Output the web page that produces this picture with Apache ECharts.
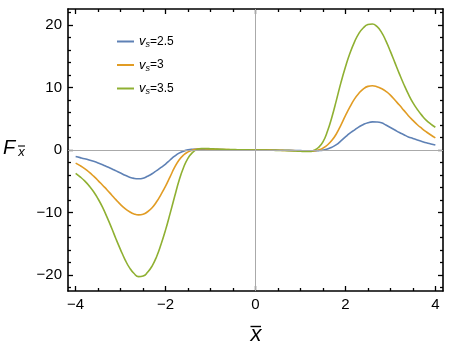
<!DOCTYPE html>
<html>
<head>
<meta charset="utf-8">
<script src="https://cdn.jsdelivr.net/npm/echarts@6/dist/echarts.min.js"></script>
<style>
html,body{margin:0;padding:0;background:#fff;}
#chart{width:474px;height:354px;}
</style>
</head>
<body>
<div id="chart"></div>
<script>
// ---- data ----
const xValues = [-4,-3.9,-3.8,-3.7,-3.6,-3.5,-3.4,-3.3,-3.2,-3.1,-3,-2.9,-2.8,-2.7,-2.6,-2.5,-2.4,-2.3,-2.2,-2.1,
                 -2,-1.9,-1.8,-1.7,-1.6,-1.5,-1.4,-1.3,-1.2,-1.1,-1,-0.9,-0.8,-0.7,-0.6,-0.5,-0.4,-0.3,-0.2,-0.1,
                 0,0.1,0.2,0.3,0.4,0.5,0.6,0.7,0.8,0.9,1,1.1,1.2,1.3,1.4,1.5,1.6,1.7,1.8,1.9,
                 2,2.1,2.2,2.3,2.4,2.5,2.6,2.7,2.8,2.9,3,3.1,3.2,3.3,3.4,3.5,3.6,3.7,3.8,3.9,4];
const vs25 = [-1.05,-1.22,-1.4,-1.6,-1.82,-2.07,-2.35,-2.67,-3.0,-3.35,-3.7,-4.05,-4.35,-4.55,-4.62,-4.52,-4.2,-3.8,-3.3,-2.8,
              -2.25,-1.6,-1.0,-0.5,-0.18,0.02,0.11,0.14,0.14,0.12,0.1,0.08,0.06,0.05,0.04,0.03,0.02,0.015,0.01,0,
              0,0,-0.01,-0.015,-0.02,-0.03,-0.04,-0.05,-0.06,-0.08,-0.1,-0.12,-0.14,-0.14,-0.1,-0.02,0.15,0.45,0.85,1.45,
              2.1,2.7,3.2,3.7,4.1,4.38,4.5,4.48,4.35,4.0,3.6,3.2,2.8,2.45,2.1,1.85,1.6,1.37,1.15,0.97,0.8];
const vs3 = [-2.1,-2.5,-2.98,-3.55,-4.2,-4.9,-5.65,-6.4,-7.2,-8.0,-8.75,-9.4,-9.9,-10.25,-10.4,-10.3,-9.9,-9.25,-8.3,-7.1,
             -5.8,-4.3,-2.8,-1.6,-0.8,-0.3,0.0,0.15,0.2,0.18,0.15,0.12,0.1,0.08,0.06,0.045,0.03,0.02,0.01,0,
             0,0,-0.01,-0.02,-0.03,-0.045,-0.06,-0.08,-0.1,-0.12,-0.15,-0.18,-0.2,-0.15,0.0,0.3,0.8,1.55,2.6,4.0,
             5.5,6.9,8.15,9.1,9.8,10.2,10.3,10.15,9.85,9.4,8.8,8.0,7.2,6.35,5.5,4.75,4.05,3.45,2.9,2.4,1.95];
const vs35 = [-3.75,-4.3,-4.95,-5.75,-6.7,-7.85,-9.2,-10.8,-12.5,-14.3,-16.0,-17.6,-18.9,-19.8,-20.3,-20.2,-19.6,-18.6,-17.1,-15.1,
              -12.8,-10.2,-7.5,-4.9,-2.8,-1.3,-0.4,0.1,0.25,0.25,0.2,0.16,0.12,0.1,0.08,0.065,0.05,0.035,0.02,0.01,
              0,-0.01,-0.02,-0.035,-0.05,-0.065,-0.08,-0.1,-0.12,-0.16,-0.2,-0.25,-0.25,-0.05,0.4,1.3,3.0,5.3,8.0,10.8,
              13.3,15.5,17.3,18.7,19.6,20.1,20.2,19.8,18.9,17.5,15.8,14.0,12.2,10.5,8.95,7.6,6.5,5.55,4.75,4.15,3.65];
const vsLabels = ['2.5','3','3.5'];
const xMajorTicks = [-4,-2,0,2,4];
const xMinorTicks = [-3.5,-3,-2.5,-1.5,-1,-0.5,0.5,1,1.5,2.5,3,3.5];
const yMajorTicks = [-20,-10,0,10,20];
const yMinorTicks = [-22,-18,-16,-14,-12,-8,-6,-4,-2,2,4,6,8,12,14,16,18,22];

const colors = ['#5E81B5','#E19C24','#8FB032'];
const FONT = '"Liberation Sans", Arial, Helvetica, sans-serif';
const seriesData = [vs25, vs3, vs35];
const names = vsLabels.map(v => 'vs=' + v);

function pairs(ys){ return xValues.map((x,i)=>[x, ys[i]]); }
const fmt = v => String(v).replace('-', '\u2212');

const X_MIN = -4.17, X_MAX = 4.17, Y_MIN = -22.6, Y_MAX = 22.6;
const frameLine = {show:true, onZero:false, lineStyle:{color:'#000', width:1.6}};

function xAxisDef(pos, major, showLabel){
  return {
    type:'value', position:pos, min:X_MIN, max:X_MAX,
    axisLine: major ? frameLine : {show:false, onZero:false},
    axisTick:{show:true, inside:true, length: major?5:3, customValues: major?xMajorTicks:xMinorTicks,
              lineStyle:{color:'#000', width:1.3}},
    axisLabel:{show:showLabel, customValues:xMajorTicks, formatter:fmt, color:'#000', fontSize:15,
               fontFamily:FONT, margin:6},
    splitLine:{show:false}
  };
}
function yAxisDef(pos, major, showLabel){
  return {
    type:'value', position:pos, min:Y_MIN, max:Y_MAX,
    axisLine: major ? frameLine : {show:false, onZero:false},
    axisTick:{show:true, inside:true, length: major?5:3, customValues: major?yMajorTicks:yMinorTicks,
              lineStyle:{color:'#000', width:1.3}},
    axisLabel:{show:showLabel, customValues:yMajorTicks, formatter:fmt, color:'#000', fontSize:15,
               fontFamily:FONT, margin:6},
    splitLine:{show:false}
  };
}

const chart = echarts.init(document.getElementById('chart'), null, {renderer:'canvas'});
const series = [{
  type:'line', data:[], xAxisIndex:0, yAxisIndex:0, z:1, silent:true,
  markLine:{silent:true, symbol:['none','none'], label:{show:false},
    lineStyle:{color:'#aaaaaa', width:1, type:'solid'},
    data:[{xAxis:0},{yAxis:0}]}
}];
seriesData.forEach((d,i)=>{
  series.push({
    name:names[i], type:'line', data:pairs(d), xAxisIndex:0, yAxisIndex:0,
    smooth:0.5, symbol:'none', z:3,
    lineStyle:{color:colors[i], width:1.6}, itemStyle:{color:colors[i]}
  });
});

chart.setOption({
  animation:false,
  backgroundColor:'#fff',
  grid:{left:68, right:31, top:9, bottom:63, containLabel:false},
  xAxis:[xAxisDef('bottom',true,true), xAxisDef('bottom',false,false),
         xAxisDef('top',true,false), xAxisDef('top',false,false)],
  yAxis:[yAxisDef('left',true,true), yAxisDef('left',false,false),
         yAxisDef('right',true,false), yAxisDef('right',false,false)],
  legend:{
    show:true, data:names, orient:'vertical', left:111, top:30, itemWidth:17, itemHeight:12, itemGap:9.5,
    itemStyle:{opacity:0},
    formatter: name => '{v|v}{s|s}{t|=' + name.slice(3) + '}',
    textStyle:{color:'#000', fontFamily:FONT, fontSize:12,
      rich:{
        v:{fontStyle:'italic', fontSize:13, fontFamily:FONT, color:'#000'},
        s:{fontStyle:'italic', fontSize:9, fontFamily:FONT, color:'#000', padding:[6,0,0,0]},
        t:{fontSize:12, fontFamily:FONT, color:'#000'}
      }}
  },
  graphic:[
    {type:'text', x:256, y:335, style:{text:'x', font:'italic 22px ' + FONT, fill:'#000',
      textAlign:'center', textVerticalAlign:'middle'}},
    {type:'line', shape:{x1:250.5, y1:326.5, x2:261, y2:326.5}, style:{stroke:'#000', lineWidth:1.4}},
    {type:'text', x:3, y:148, style:{text:'F', font:'italic 20px ' + FONT, fill:'#000',
      textAlign:'left', textVerticalAlign:'middle'}},
    {type:'text', x:21.5, y:152.5, style:{text:'x', font:'italic 13px ' + FONT, fill:'#000',
      textAlign:'center', textVerticalAlign:'middle'}},
    {type:'line', shape:{x1:18, y1:146, x2:25, y2:146}, style:{stroke:'#000', lineWidth:1.1}}
  ],
  series:series
});
</script>
</body>
</html>
